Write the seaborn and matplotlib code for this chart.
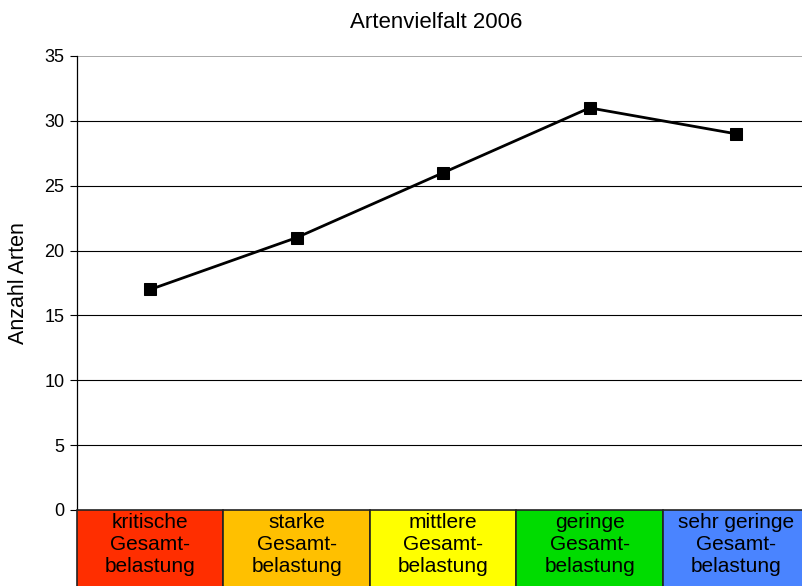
import matplotlib
matplotlib.use("Agg")
import matplotlib.pyplot as plt
import matplotlib.transforms as mtransforms
from matplotlib.patches import Rectangle
import seaborn as sns

# ----------------- DATA -----------------
categories = ["kritische\nGesamt-\nbelastung", "starke\nGesamt-\nbelastung",
              "mittlere\nGesamt-\nbelastung", "geringe\nGesamt-\nbelastung",
              "sehr geringe\nGesamt-\nbelastung"]
species_count = [17, 21, 26, 31, 29]
box_colors = ["#FF2E00", "#FFC000", "#FFFF00", "#00DC00", "#4A84FF"]
y_ticks = [0, 5, 10, 15, 20, 25, 30, 35]
# ----------------------------------------

sns.set_style("white")
plt.rcParams["font.family"] = ["Liberation Sans", "DejaVu Sans"]
plt.rcParams["text.color"] = "black"
plt.rcParams["axes.labelcolor"] = "black"
plt.rcParams["ytick.color"] = "black"

fig = plt.figure(figsize=(8.02, 5.86), dpi=100)
ax = fig.add_axes([77 / 802, 1 - 510 / 586, 1 - 77 / 802, 454 / 586])

xs = list(range(len(categories)))
sns.lineplot(x=xs, y=species_count, ax=ax, color="black", linewidth=2,
             marker="s", markersize=9, markeredgecolor="black")

ax.set_xlim(-0.5, 4.45)
ax.set_ylim(0, 35)
ax.set_yticks(y_ticks)
ax.set_xticks([])
ax.tick_params(axis="y", labelsize=13, length=5, width=0.8, color="black",
               labelcolor="black", direction="out", left=True, pad=4)

for t in y_ticks[1:-1]:
    ax.axhline(t, color="black", linewidth=0.8, zorder=0)
ax.axhline(35, color="#999999", linewidth=1.2, zorder=0)

for side in ["top", "right", "bottom"]:
    ax.spines[side].set_visible(False)
ax.spines["left"].set_color("black")
ax.spines["left"].set_linewidth(0.9)

# coloured category boxes below the axis
trans = mtransforms.blended_transform_factory(ax.transData, ax.transAxes)
box_h = 77 / 454
for i, (lab, col) in enumerate(zip(categories, box_colors)):
    ax.add_patch(Rectangle((i - 0.5, -box_h), 1, box_h, transform=trans,
                           facecolor=col, edgecolor="#222222", linewidth=1.2,
                           clip_on=False, zorder=3))
    ax.text(i, -0.006, lab, transform=trans, ha="center", va="top",
            fontsize=15, linespacing=1.2, zorder=4, clip_on=False, color="black")

ax.set_ylabel("Anzahl Arten", fontsize=15.5, color="black")
ax.yaxis.set_label_coords(-0.066, 0.5)
fig.text(436 / 802, 1 - 22 / 586, "Artenvielfalt 2006", ha="center", va="center",
         fontsize=16, color="black")

fig.savefig("out.png", dpi=100)
